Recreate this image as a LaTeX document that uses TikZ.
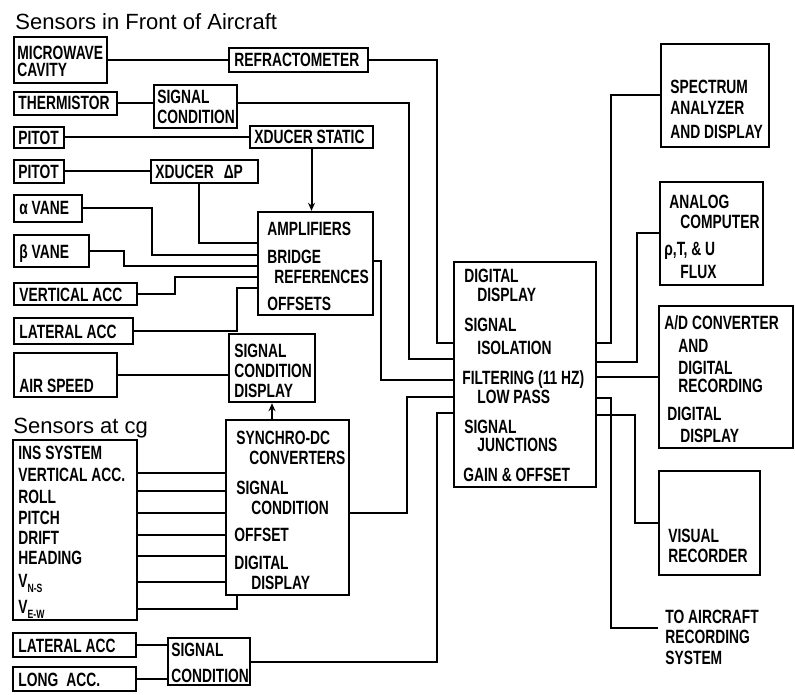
\documentclass[tikz,border=0pt]{standalone}
\usepackage{fontspec}
\setmainfont[FakeStretch=0.72]{Liberation Sans}
\newfontfamily\titlefont{Liberation Sans}
\usetikzlibrary{fit,arrows.meta}
\tikzset{
  box/.style={draw, line width=1.2pt, inner sep=0pt},
  wire/.style={line width=1pt},
  arr/.style={wire, -{Stealth[length=4pt,width=3.5pt]}},
  txt/.style={anchor=base west, inner sep=0pt, font=\bfseries\fontsize{9.6}{10}\selectfont},
  ttl/.style={anchor=base west, inner sep=0pt, font=\titlefont\fontsize{11}{12}\selectfont},
}
\newcommand\bx[5]{\node[box, fit={(#2,#3) (#4,#5)}] (#1) {};}
\newcommand\tx[4]{\node[txt] (#1) at (#2,#3) {#4};}
\begin{document}
\begin{tikzpicture}[x=0.5pt, y=-0.5pt]
\useasboundingbox (0,0) rectangle (795,694);

% titles
\node[ttl] (title1) at (15,30) {Sensors in Front of Aircraft};
\node[ttl] (title2) at (13,433) {Sensors at cg};

% left column: front sensors
\bx{mw}{14}{37}{107}{83}
\tx{mwA}{17}{60}{MICROWAVE} \tx{mwB}{17}{77}{CAVITY}
\bx{refr}{229}{48}{368}{72}
\tx{refrT}{234}{67}{REFRACTOMETER}
\bx{therm}{14}{92}{117}{115}
\tx{thermT}{18}{110}{THERMISTOR}
\bx{scA}{154}{85}{237}{128}
\tx{scAa}{157}{104}{SIGNAL} \tx{scAb}{157}{124}{CONDITION}
\bx{pitA}{14}{127}{64}{148}
\tx{pitAT}{18}{145}{PITOT}
\bx{xst}{250}{126}{373}{148}
\tx{xstT}{254}{144}{XDUCER STATIC}
\bx{pitB}{14}{160}{64}{183}
\tx{pitBT}{18}{179}{PITOT}
\bx{xdp}{151}{160}{258}{183}
\tx{xdpT}{155}{179}{XDUCER\hspace{5pt}ΔP}
\bx{amp}{258}{212}{373}{315}
\tx{ampA}{267}{236}{AMPLIFIERS} \tx{ampB}{267}{264}{BRIDGE}
\tx{ampC}{274}{284}{REFERENCES} \tx{ampD}{267}{311}{OFFSETS}
\bx{av}{14}{195}{82}{222} \tx{avT}{19}{215}{α VANE}
\bx{bv}{14}{235}{89}{267} \tx{bvT}{19}{259}{β VANE}
\bx{va}{14}{283}{137}{305} \tx{vaT}{19}{301}{VERTICAL ACC}
\bx{la}{14}{318}{133}{344} \tx{laT}{19}{338}{LATERAL ACC}
\bx{as}{14}{353}{117}{397} \tx{asT}{19}{392}{AIR SPEED}
\bx{scd}{229}{334}{315}{402}
\tx{scdA}{234}{357}{SIGNAL} \tx{scdB}{234}{377}{CONDITION} \tx{scdC}{234}{397}{DISPLAY}

% cg sensors
\bx{ins}{13}{440}{137}{620}
\tx{insA}{18}{459}{INS SYSTEM}
\tx{insB}{18}{481}{VERTICAL ACC.}
\tx{insC}{18}{503}{ROLL}
\tx{insD}{18}{524}{PITCH}
\tx{insE}{18}{544}{DRIFT}
\tx{insF}{18}{564}{HEADING}
\tx{insG}{18}{587}{V\raisebox{-0.5ex}{\fontsize{6}{7}\selectfont N-S}}
\tx{insH}{18}{613}{V\raisebox{-0.5ex}{\fontsize{6}{7}\selectfont E-W}}
\bx{syn}{226}{420}{349}{595}
\tx{synA}{236}{444}{SYNCHRO-DC} \tx{synB}{249}{464}{CONVERTERS}
\tx{synC}{236}{494}{SIGNAL} \tx{synD}{251}{514}{CONDITION}
\tx{synE}{234}{541}{OFFSET}
\tx{synF}{234}{569}{DIGITAL} \tx{synG}{251}{589}{DISPLAY}
\bx{lb}{13}{633}{136}{657} \tx{lbT}{18}{652}{LATERAL ACC}
\bx{lo}{13}{667}{136}{691} \tx{loT}{18}{686}{LONG\hspace{4pt}ACC.}
\bx{scB}{168}{638}{250}{685}
\tx{scBa}{171}{656}{SIGNAL} \tx{scBb}{171}{682}{CONDITION}

% central unit
\bx{cen}{454}{262}{596}{487}
\tx{cenA}{464}{283}{DIGITAL} \tx{cenB}{477}{301}{DISPLAY}
\tx{cenC}{464}{331}{SIGNAL} \tx{cenD}{477}{354}{ISOLATION}
\tx{cenE}{462}{384}{FILTERING (11 HZ)} \tx{cenF}{477}{403}{LOW PASS}
\tx{cenG}{464}{433}{SIGNAL} \tx{cenH}{477}{451}{JUNCTIONS}
\tx{cenI}{463}{481}{GAIN \& OFFSET}

% right column
\bx{spec}{661}{44}{769}{147}
\tx{specA}{670}{94}{SPECTRUM} \tx{specB}{670}{115}{ANALYZER} \tx{specC}{670}{139}{AND DISPLAY}
\bx{ana}{660}{182}{763}{285}
\tx{anaA}{669}{209}{ANALOG} \tx{anaB}{680}{229}{COMPUTER}
\tx{anaC}{664}{256}{ρ,T, \& U} \tx{anaD}{680}{279}{FLUX}
\bx{ad}{659}{306}{793}{448}
\tx{adA}{664}{329}{A/D CONVERTER} \tx{adB}{678}{352}{AND}
\tx{adC}{678}{374}{DIGITAL} \tx{adD}{678}{392}{RECORDING}
\tx{adE}{667}{420}{DIGITAL} \tx{adF}{680}{442}{DISPLAY}
\bx{vis}{659}{471}{760}{575}
\tx{visA}{668}{542}{VISUAL} \tx{visB}{668}{562}{RECORDER}
\tx{toA}{665}{623}{TO AIRCRAFT} \tx{toB}{665}{643}{RECORDING} \tx{toC}{665}{664}{SYSTEM}

% connectors, left
\draw[wire] (mw.east) -- (mw.east -| refr.west);
\coordinate (k2) at (437,343);
\draw[wire] (refr.east) -| (k2) -- (k2 -| cen.west);
\draw[wire] (therm.east) -- (therm.east -| scA.west);
\coordinate (k4) at (409,359);
\draw[wire] (scA.east |- therm.east) -| (k4) -- (k4 -| cen.west);
\draw[wire] (pitA.east) -- (pitA.east -| xst.west);
\draw[wire] (pitB.east) -- (pitB.east -| xdp.west);
\draw[arr] (xst.south) -- (xst.south |- amp.north);
\coordinate (k8) at (199,243);
\draw[wire] (k8 |- xdp.south) |- (k8 -| amp.west);
\coordinate (k9) at (152,255);
\draw[wire] (av.east) -| (k9) -- (k9 -| amp.west);
\coordinate (k10) at (124,266);
\draw[wire] (bv.east) -| (k10) -- (k10 -| amp.west);
\coordinate (k11) at (175,277);
\draw[wire] (va.east) -| (k11) -- (k11 -| amp.west);
\coordinate (k12) at (237,288);
\draw[wire] (la.east) -| (k12) -- (k12 -| amp.west);
\coordinate (k13a) at (0,261);
\coordinate (k13) at (381,380);
\draw[wire] (amp.east |- k13a) -| (k13) -- (k13 -| cen.west);
\draw[wire] (as.east) -- (as.east -| scd.west);
\draw[arr] (scd.south |- syn.north) -- (scd.south);
\foreach \yy [count=\i] in {473,491,513,535,556,582} {
  \coordinate (iy\i) at (0,\yy);
  \draw[wire] (ins.east |- iy\i) -- (syn.west |- iy\i);
}
\coordinate (iy7) at (237,609);
\draw[wire] (ins.east |- iy7) -| (iy7 |- syn.south);
\coordinate (k23a) at (0,513);
\coordinate (k23) at (407,397);
\draw[wire] (syn.east |- k23a) -| (k23) -- (k23 -| cen.west);
\draw[wire] (lb.east) -- (lb.east -| scB.west);
\draw[wire] (lo.east) -- (lo.east -| scB.west);
\coordinate (k26) at (437,413);
\draw[wire] (scB.east) -| (k26) -- (k26 -| cen.west);

% connectors, right
\coordinate (k27) at (611,343);
\draw[wire] (k27 -| cen.east) -- (k27) |- (spec.west);
\coordinate (k28) at (637,362);
\draw[wire] (k28 -| cen.east) -- (k28) |- (ana.west);
\draw[wire] (cen.east |- ad.west) -- (ad.west);
\coordinate (k30) at (635,415);
\draw[wire] (k30 -| cen.east) -- (k30) |- (vis.west);
\coordinate (k31) at (611,398);
\coordinate (toend) at (658,628);
\draw[wire] (k31 -| cen.east) -- (k31) |- (toend);
\end{tikzpicture}
\end{document}
